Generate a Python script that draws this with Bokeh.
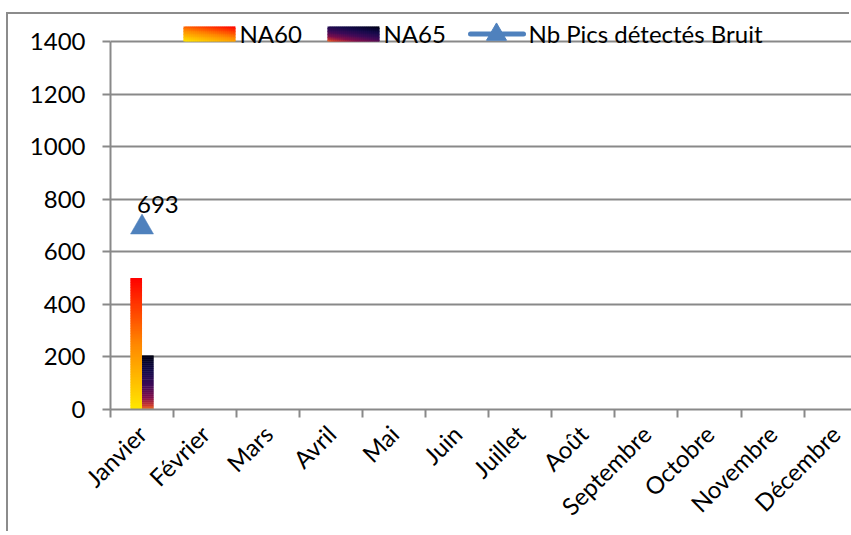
import math
from bokeh.plotting import figure
from bokeh.models import Range1d, FixedTicker
from bokeh.core.properties import value
from bokeh.embed import file_html
from bokeh.resources import INLINE

# ---------------- data ----------------
MONTHS = ["Janvier", "Février", "Mars", "Avril", "Mai", "Juin", "Juillet",
          "Août", "Septembre", "Octobre", "Novembre", "Décembre"]
NA60 = [500] + [None] * 11
NA65 = [205] + [None] * 11
NB_PICS = [693] + [None] * 11
Y_TICKS = [0, 200, 400, 600, 800, 1000, 1200, 1400]
SERIES_NAMES = ["NA60", "NA65", "Nb Pics détectés Bruit"]

# gradient stops (t from bottom=0 to top=1)
NA60_STOPS = [(0.0, (255, 232, 0)), (0.5, (255, 135, 0)), (1.0, (255, 0, 0))]
NA65_STOPS = [(0.0, (245, 125, 30)), (0.07, (205, 60, 45)), (0.22, (130, 15, 75)),
              (0.45, (62, 10, 88)), (0.7, (22, 10, 75)), (0.87, (8, 5, 48)),
              (1.0, (0, 0, 15))]

# ---------------- style / layout ----------------
FONT = "Lato"
FS = "24px"
GRAY = "#898989"
BLUE = "#4F81BD"
CAT_PX = 63.05          # px per category
Y_PX = 368.0 / 1400.0   # px per unit
FRAME_W, FRAME_H = 741, 395
LEFT, BOTTOM_Y = 110, 409   # frame left / bottom in window px
BAR_W = 0.183


def grad(stops, t):
    for (t0, c0), (t1, c1) in zip(stops[:-1], stops[1:]):
        if t <= t1:
            f = (t - t0) / (t1 - t0) if t1 > t0 else 0
            return "#%02x%02x%02x" % tuple(int(round(a + (b - a) * f)) for a, b in zip(c0, c1))
    c = stops[-1][1]
    return "#%02x%02x%02x" % c


def xd(px):
    return (px - LEFT) / CAT_PX


def yd(py):
    return (BOTTOM_Y - py) / Y_PX


p = figure(frame_width=FRAME_W, frame_height=FRAME_H,
           x_range=Range1d(0, FRAME_W / CAT_PX), y_range=Range1d(0, FRAME_H / Y_PX),
           output_backend="svg", toolbar_location=None,
           min_border_left=102, min_border_right=0, min_border_top=0, min_border_bottom=112)
p.margin = (14, 0, 0, 8)
p.styles = {"box-shadow": "-2px -2px 0 0 #8c8c8c"}
p.outline_line_color = None
p.background_fill_color = "white"
p.border_fill_color = "white"

p.xgrid.visible = False
p.ygrid.ticker = FixedTicker(ticks=Y_TICKS)
p.ygrid.grid_line_color = GRAY
p.ygrid.grid_line_width = 2

yax = p.yaxis[0]
yax.ticker = FixedTicker(ticks=Y_TICKS)
yax.bounds = (0, 1400)
yax.axis_line_color = GRAY
yax.axis_line_width = 2
yax.major_tick_line_color = GRAY
yax.major_tick_line_width = 2
yax.major_tick_out = 8
yax.major_tick_in = 0
yax.minor_tick_line_color = None
yax.major_label_standoff = 17
yax.major_label_text_font = FONT
yax.major_label_text_font_size = FS
yax.major_label_text_color = "black"

centers = [i + 0.5 for i in range(len(MONTHS))]
bounds = [float(i) for i in range(len(MONTHS) + 1)]
xax = p.xaxis[0]
xax.ticker = FixedTicker(ticks=centers, minor_ticks=bounds)
xax.major_label_overrides = {c: m for c, m in zip(centers, MONTHS)}
xax.major_label_orientation = math.pi / 4
xax.axis_line_color = GRAY
xax.axis_line_width = 2
xax.major_tick_line_color = None
xax.major_tick_out = 0
xax.major_tick_in = 0
xax.minor_tick_line_color = GRAY
xax.minor_tick_line_width = 2
xax.minor_tick_out = 8
xax.minor_tick_in = 0
xax.major_label_standoff = 12
xax.major_label_text_font = FONT
xax.major_label_text_font_size = FS
xax.major_label_text_color = "black"

# ---------------- gradient bars ----------------
N = 80


def gradient_bar(x0, x1, v, stops):
    bots, tops, cols = [], [], []
    for j in range(N):
        b = v * j / N
        t = v * min(j + 1.7, N) / N
        bots.append(b)
        tops.append(t)
        cols.append(grad(stops, (j + 0.5) / N))
    p.quad(left=[x0] * N, right=[x1] * N, bottom=bots, top=tops,
           fill_color=cols, line_color=None)


for i, (a, b) in enumerate(zip(NA60, NA65)):
    c = centers[i]
    if a is not None:
        gradient_bar(c - BAR_W, c, a, NA60_STOPS)
    if b is not None:
        gradient_bar(c, c + BAR_W, b, NA65_STOPS)

# ---------------- markers + labels ----------------
mx = [centers[i] for i, v in enumerate(NB_PICS) if v is not None]
my = [v for v in NB_PICS if v is not None]
p.scatter(mx, my, marker="triangle", size=23, fill_color=BLUE, line_color=BLUE, line_width=0.5)
p.text(mx, my, text=[str(v) for v in my], x_offset=-5, y_offset=-23,
       text_font=value(FONT), text_font_size=FS, text_color="black",
       text_align="left", text_baseline="alphabetic")

# ---------------- legend (drawn manually for gradient swatches) ----------------
def swatch(px0, px1, py0, py1, stops):
    nx, ny = 26, 10
    L, R, B, T, C = [], [], [], [], []
    dx = (px1 - px0) / nx
    dy = (py1 - py0) / ny
    for ix in range(nx):
        for iy in range(ny):
            u = (ix + 0.5) / nx
            w = (ny - iy - 0.5) / ny
            t = 0.35 * u + 0.65 * w
            L.append(xd(px0 + ix * dx))
            R.append(xd(px0 + (ix + 1.6) * dx if ix < nx - 1 else px1))
            T.append(yd(py0 + iy * dy))
            B.append(yd(py0 + (iy + 1.6) * dy if iy < ny - 1 else py1))
            C.append(grad(stops, t))
    p.quad(left=L, right=R, bottom=B, top=T, fill_color=C, line_color=None)


swatch(183, 235, 26, 41, NA60_STOPS)
swatch(327, 379, 26, 41, NA65_STOPS)
p.line([xd(470), xd(523)], [yd(33.5), yd(33.5)], line_color=BLUE, line_width=5, line_cap="round")
p.scatter([xd(496)], [yd(34)], marker="triangle", size=20, fill_color=BLUE, line_color=BLUE)
p.text([xd(239), xd(383), xd(528)], [yd(33)] * 3, text=SERIES_NAMES,
       text_font=value(FONT), text_font_size=FS, text_color="black",
       text_align="left", text_baseline="alphabetic")

open("out.html", "w").write(file_html(p, INLINE))
